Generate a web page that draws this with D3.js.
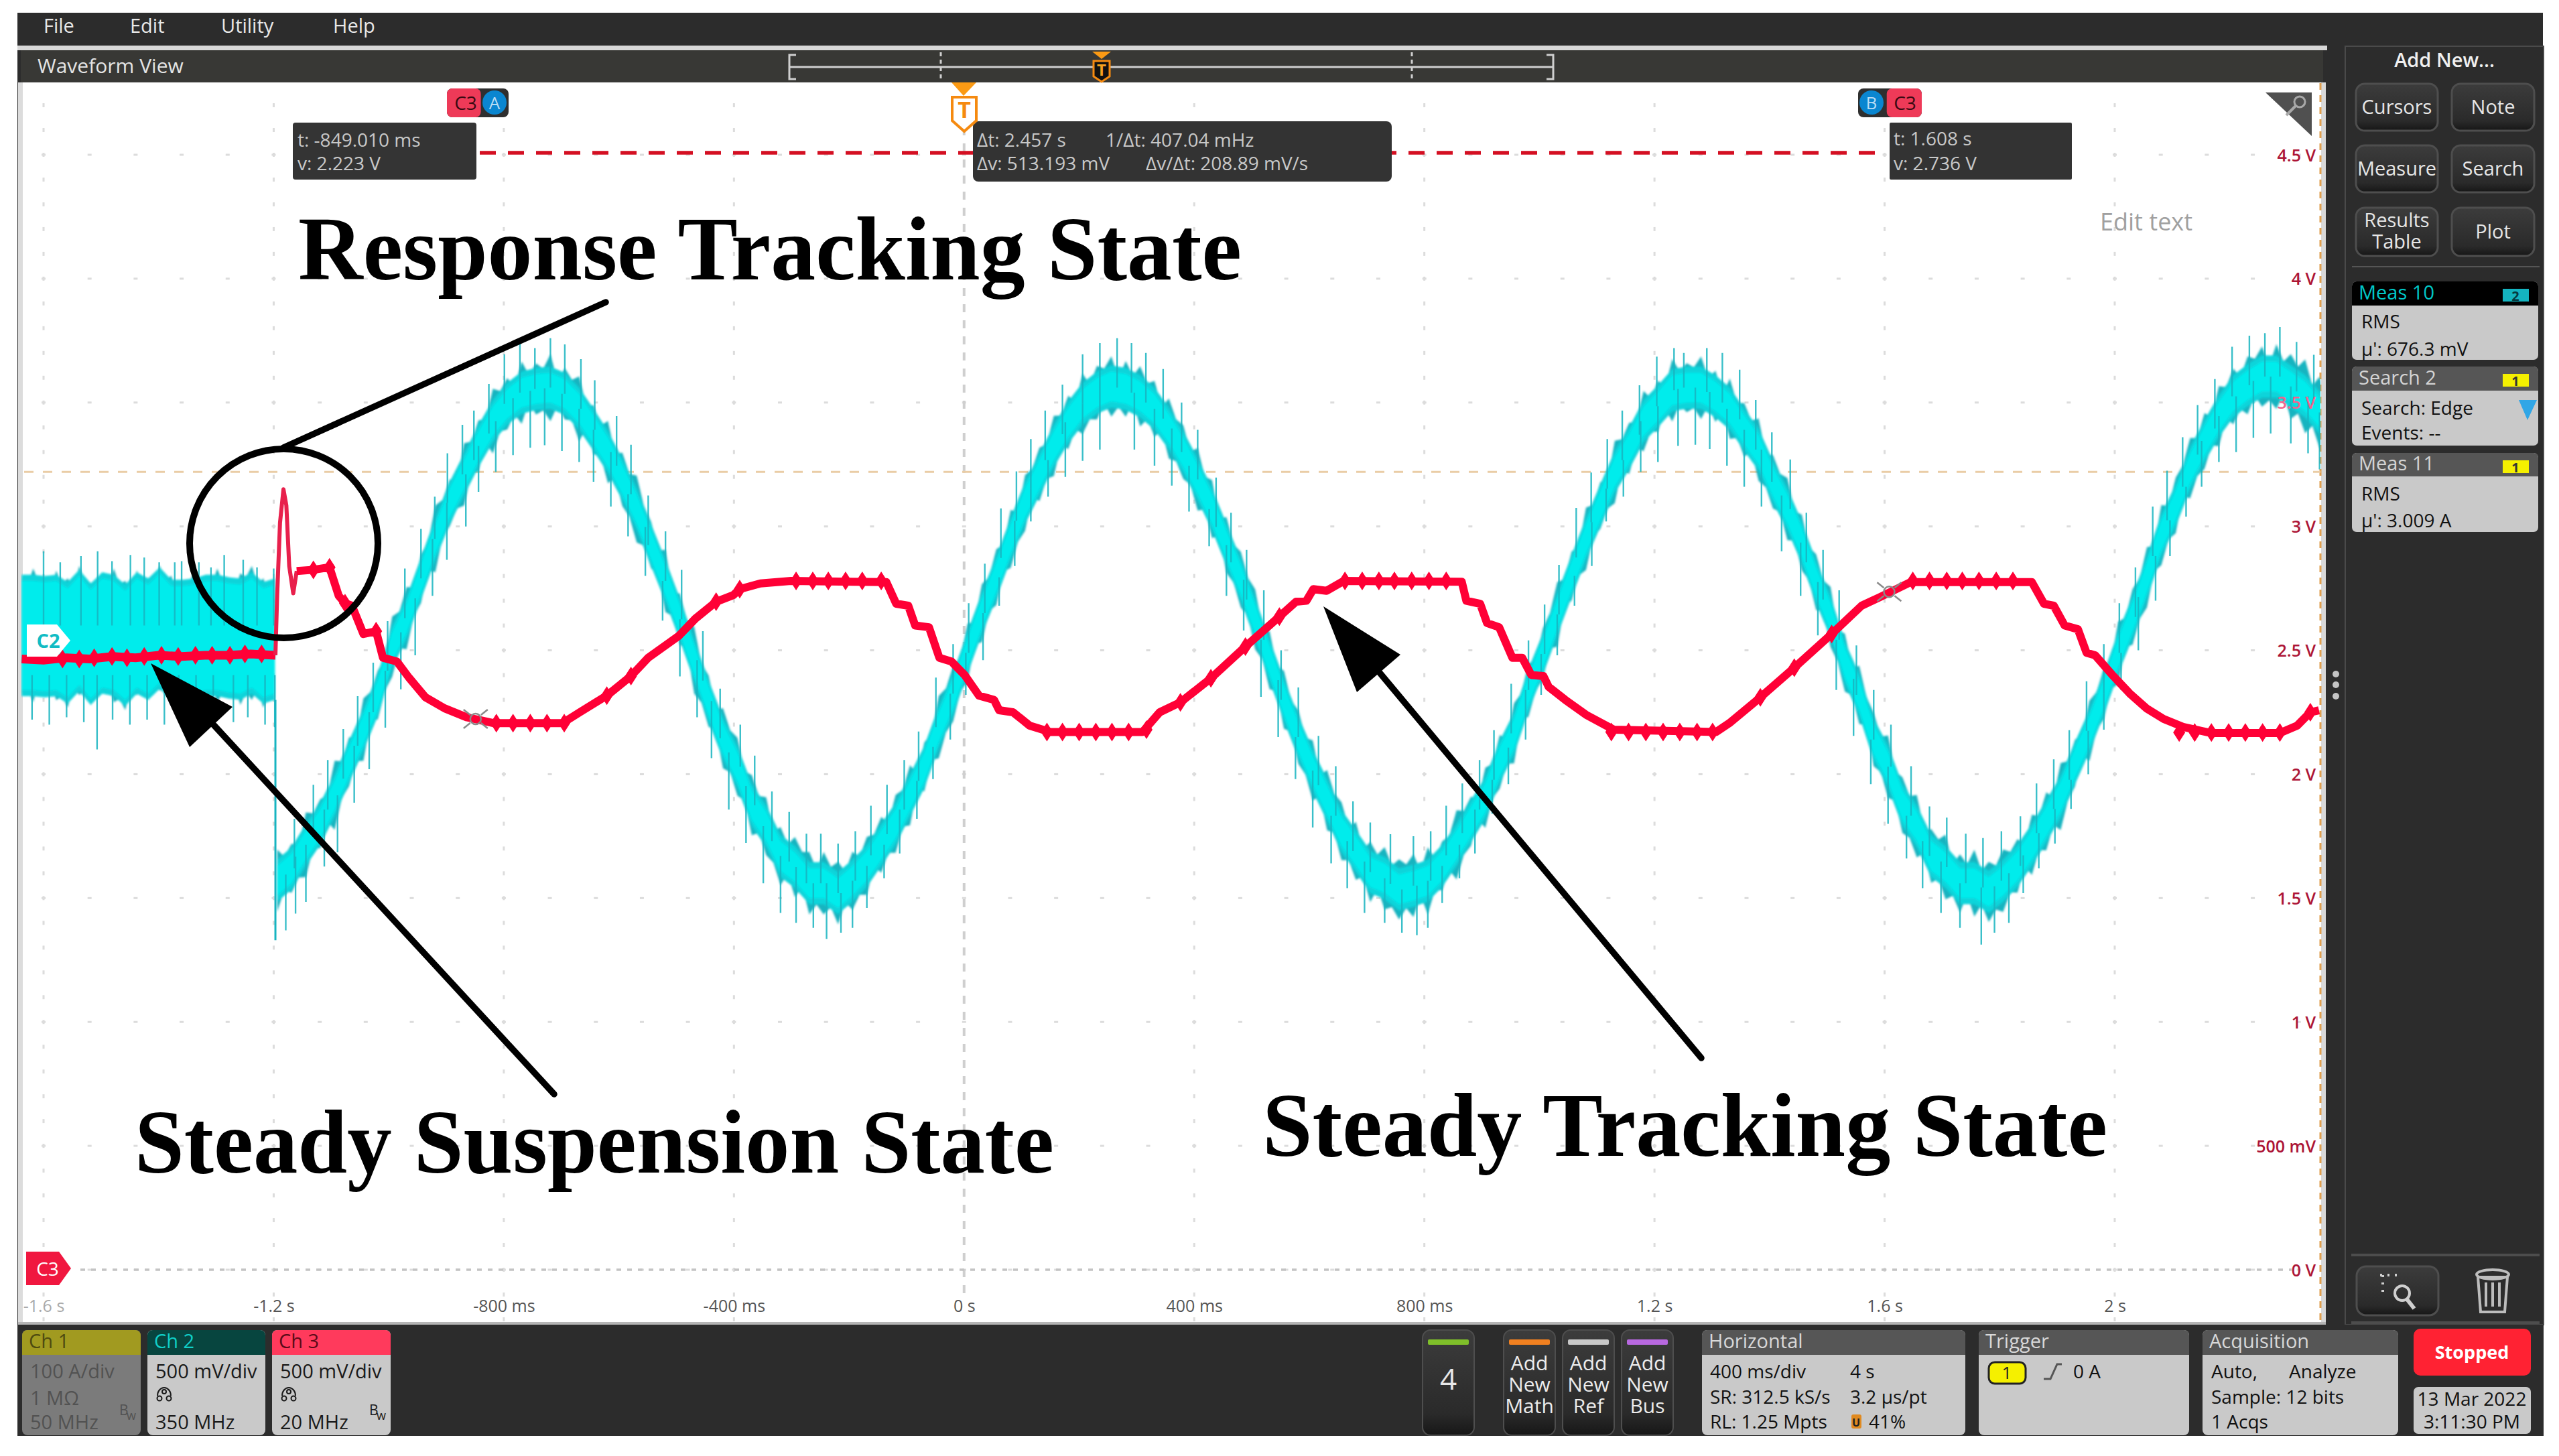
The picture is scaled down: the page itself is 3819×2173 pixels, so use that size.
<!DOCTYPE html>
<html><head><meta charset="utf-8">
<script src="https://cdn.jsdelivr.net/npm/d3@7"></script>
<style>html,body{margin:0;padding:0;background:#fff}svg{display:block}</style>
</head><body><svg id="c" width="3819" height="2173" viewBox="0 0 3819 2173"></svg>
<script>
const xTickVals=[-1600,-1200,-800,-400,0,400,800,1200,1600,2000];
const xTickLabels=["-1.6 s","-1.2 s","-800 ms","-400 ms","0 s","400 ms","800 ms","1.2 s","1.6 s","2 s"];
const yTickVals=[0,0.5,1,1.5,2,2.5,3,3.5,4,4.5];
const yTickLabels=["0 V","500 mV","1 V","1.5 V","2 V","2.5 V","3 V","3.5 V","4 V","4.5 V"];

// Ch2 before the step: envelope read every 20 ms from -1638 ms
const steadyHi=[2.82,2.86,2.80,2.85,2.82,2.87,2.80,2.84,2.86,2.81,2.85,2.82,2.87,2.83,2.80,2.85,2.82,2.86,2.81,2.84,2.87,2.82,2.81];
const steadyLo=[2.30,2.26,2.31,2.27,2.24,2.29,2.25,2.30,2.26,2.23,2.29,2.27,2.31,2.25,2.28,2.24,2.30,2.26,2.29,2.25,2.27,2.24,2.28];
const steadyNotch=[.05,.03,.06,.04,.07,.03,.05,.06,.04,.07,.03,.05,.04,.06,.03,.07,.05,.04,.06,.03,.05,.07,.04];
const steadySpikesUp=[[-1600,2.90],[-1571,2.855],[-1535,2.88],[-1506,2.90],[-1481,2.86],[-1449,2.885],[-1425,2.875],[-1399,2.855],[-1372,2.855],[-1360,2.86],[-1330,2.855],[-1309,2.835],[-1286,2.885],[-1253,2.865],[-1229,2.835],[-1200,2.83]];
const steadySpikesDown=[[-1620,2.22],[-1590,2.20],[-1560,2.23],[-1530,2.21],[-1507,2.10],[-1480,2.22],[-1450,2.20],[-1420,2.22],[-1390,2.20],[-1365,2.22],[-1335,2.19],[-1305,2.22],[-1270,2.21],[-1245,2.23],[-1215,2.20],[-1198,2.19]];

// Ch2 tracking: envelope read every 25 ms from -1194 ms
const trackHi=[1.71,1.73,1.86,1.91,2.07,2.16,2.32,2.43,2.65,2.77,2.90,3.10,3.20,3.35,3.44,3.57,3.61,3.68,3.67,3.71,3.65,3.62,3.50,3.44,3.31,3.22,3.03,2.92,2.74,2.61,2.41,2.28,2.16,2.01,1.92,1.80,1.76,1.70,1.70,1.66,
1.70,1.76,1.84,1.93,2.05,2.14,2.33,2.45,2.62,2.78,2.92,3.08,3.22,3.33,3.46,3.54,3.63,3.66,3.70,3.68,3.66,3.60,3.53,3.42,3.33,3.20,3.05,2.91,2.76,2.59,2.43,2.27,2.15,2.03,1.90,1.82,1.74,1.72,1.67,1.69,
1.72,1.74,1.87,1.92,2.04,2.17,2.30,2.46,2.60,2.79,2.91,3.09,3.19,3.36,3.43,3.56,3.60,3.69,3.67,3.70,3.64,3.61,3.51,3.45,3.30,3.21,3.06,2.90,2.77,2.58,2.45,2.26,2.17,2.00,1.93,1.79,1.77,1.69,1.71,1.66,
1.71,1.75,1.85,1.94,2.06,2.15,2.31,2.44,2.63,2.76,2.93,3.10,3.21,3.37,3.47,3.58,3.65,3.70,3.74,3.75,3.71,3.69,3.62,3.58,3.50];
const trackLo=[1.43,1.51,1.57,1.69,1.76,1.94,2.04,2.21,2.38,2.49,2.68,2.80,2.99,3.07,3.21,3.28,3.38,3.40,3.44,3.41,3.42,3.33,3.28,3.16,3.07,2.92,2.82,2.64,2.51,2.31,2.18,2.01,1.90,1.74,1.66,1.54,1.49,1.42,1.42,1.38,
1.44,1.50,1.59,1.67,1.78,1.92,2.05,2.20,2.36,2.52,2.67,2.82,2.97,3.09,3.19,3.30,3.36,3.42,3.43,3.43,3.39,3.35,3.26,3.18,3.05,2.94,2.80,2.66,2.49,2.33,2.17,2.03,1.88,1.76,1.64,1.56,1.47,1.44,1.40,1.41,
1.42,1.52,1.56,1.70,1.77,1.93,2.03,2.22,2.37,2.50,2.69,2.81,2.98,3.08,3.20,3.29,3.37,3.41,3.45,3.42,3.41,3.34,3.27,3.17,3.06,2.93,2.81,2.65,2.50,2.32,2.19,2.02,1.89,1.75,1.65,1.55,1.48,1.43,1.41,1.39,
1.43,1.51,1.58,1.68,1.76,1.94,2.04,2.21,2.35,2.51,2.66,2.83,2.96,3.10,3.22,3.31,3.40,3.44,3.47,3.46,3.42,3.36,3.30,3.24,3.20];
// how far the fringe falls back between two samples
const trackNotch=[.04,.07,.03,.06,.05,.08,.03,.06,.04,.07,.05,.03,.08,.04,.06,.03,.07,.05,.04,.08,.03,.06,.05,.07,.04,.03,.06,.08,.04,.05,.07,.03,.06,.04,.08,.05,.03,.07,.04,.06,
.05,.03,.07,.04,.08,.06,.03,.05,.07,.04,.06,.08,.03,.05,.04,.07,.06,.03,.08,.05,.04,.07,.03,.06,.05,.08,.04,.03,.07,.06,.04,.05,.08,.03,.06,.07,.04,.05,.03,.08,
.06,.04,.03,.07,.05,.08,.04,.06,.03,.05,.07,.04,.08,.03,.06,.05,.07,.04,.03,.06,.08,.05,.04,.07,.03,.06,.05,.04,.08,.07,.03,.05,.06,.04,.07,.03,.08,.05,.06,.04,
.03,.07,.05,.08,.04,.06,.03,.07,.05,.04,.08,.06,.03,.05,.07,.04,.06,.03,.08,.05,.04,.07,.06,.03,.05];
const trackSpikesUp=[[-1170,1.92],[-1137,2.03],[-1112,2.16],[-1085,2.24],[-1060,2.38],[-1033,2.50],[-1008,2.70],[-978,2.90],[-950,3.07],[-926,3.12],[-904,3.33],[-878,3.48],[-858,3.52],[-832,3.64],[-805,3.72],[-778,3.74],[-752,3.72],[-725,3.76],[-700,3.74],[-672,3.70],[-648,3.66],[-610,3.50],[-585,3.42],[-555,3.25],[-525,3.03],[-497,2.88],[-460,2.60],[-430,2.44],[-395,2.20],[-370,2.12],[-340,1.96],[-310,1.90],[-280,1.84],[-255,1.78],
[-225,1.78],[-195,1.80],[-168,1.95],[-140,2.03],[-110,2.24],[-85,2.28],[-55,2.50],[-25,2.68],[2,2.86],[30,3.04],[58,3.24],[85,3.42],[110,3.50],[135,3.62],[165,3.69],[200,3.72],[230,3.74],[260,3.76],[285,3.74],[310,3.72],[340,3.68],[372,3.70],[400,3.56],[432,3.36],[458,3.20],[485,3.00],[515,2.80],[545,2.64],[575,2.42],[610,2.18],[640,2.04],[670,1.92],[700,1.86],[735,1.78],
[775,1.76],[805,1.82],[832,1.94],[860,2.05],[890,2.22],[915,2.30],[945,2.50],[975,2.70],[1003,2.88],[1028,3.02],[1058,3.24],[1084,3.40],[1112,3.50],[1138,3.62],[1168,3.68],[1198,3.70],[1228,3.72],[1245,3.70],[1285,3.72],[1312,3.70],[1342,3.68],[1370,3.64],[1398,3.50],[1430,3.38],[1458,3.18],[1487,2.98],[1515,2.86],[1545,2.60],[1575,2.44],[1605,2.20],[1640,2.06],[1672,1.96],[1702,1.84],[1735,1.80],
[1765,1.80],[1797,1.78],[1830,1.95],[1858,2.05],[1888,2.22],[1915,2.30],[1945,2.52],[1975,2.72],[2002,2.90],[2030,3.06],[2060,3.26],[2085,3.46],[2112,3.56],[2138,3.68],[2168,3.72],[2198,3.76],[2228,3.80],[2255,3.78],[2281,3.82],[2310,3.76],[2340,3.72]];
const trackSpikesDown=[[-1185,1.37],[-1168,1.38],[-1150,1.48],[-1118,1.58],[-1095,1.66],[-1066,1.80],[-1040,1.94],[-1012,2.14],[-985,2.34],[-960,2.42],[-930,2.66],[-905,2.82],[-872,3.00],[-850,3.14],[-820,3.22],[-790,3.28],[-760,3.30],[-735,3.32],[-705,3.28],[-675,3.26],[-650,3.18],[-620,3.08],[-590,2.96],[-560,2.80],[-530,2.62],[-500,2.34],[-470,2.16],[-445,1.98],[-415,1.78],[-385,1.66],[-355,1.54],[-325,1.44],[-298,1.40],[-268,1.38],[-245,1.335],
[-220,1.36],[-200,1.38],[-175,1.46],[-145,1.58],[-118,1.68],[-88,1.82],[-60,1.98],[-30,2.14],[-3,2.32],[27,2.46],[55,2.68],[82,2.84],[110,3.02],[140,3.12],[170,3.20],[200,3.26],[230,3.30],[290,3.25],[325,3.22],[355,3.16],[385,3.06],[420,2.92],[450,2.72],[480,2.58],[510,2.30],[540,2.10],[570,1.98],[600,1.78],[632,1.64],[660,1.54],[690,1.44],[725,1.40],[755,1.36],
[781,1.35],[800,1.38],[825,1.48],[855,1.58],[882,1.68],[912,1.84],[940,1.96],[970,2.14],[997,2.32],[1025,2.48],[1055,2.68],[1085,2.84],[1110,3.02],[1140,3.12],[1170,3.22],[1200,3.26],[1235,3.26],[1265,3.22],[1290,3.26],[1320,3.18],[1350,3.14],[1380,3.02],[1415,2.90],[1448,2.72],[1478,2.56],[1510,2.34],[1540,2.12],[1570,1.96],[1600,1.80],[1632,1.66],[1660,1.54],[1692,1.44],[1725,1.38],[1762,1.29],
[1785,1.36],[1810,1.40],[1835,1.52],[1862,1.62],[1890,1.72],[1918,1.86],[1948,2.00],[1975,2.18],[2005,2.34],[2035,2.50],[2065,2.70],[2090,2.88],[2118,3.04],[2145,3.16],[2175,3.26],[2205,3.30],[2235,3.34],[2265,3.36],[2300,3.28],[2330,3.20],[2350,3.14]];

// Ch3 trace
const redSteady=[[-1638,2.465],[-1600,2.46],[-1560,2.47],[-1520,2.465],[-1480,2.475],[-1440,2.47],[-1400,2.48],[-1360,2.475],[-1320,2.48],[-1280,2.48],[-1240,2.485],[-1197,2.48]];
const redStep=[[-1197,2.48],[-1194,2.72],[-1189,3.015],[-1183,3.15],[-1178,3.085],[-1173,2.84],[-1166,2.73],[-1160,2.82]];
const redTrack=[[-1160,2.82],[-1131,2.825],[-1103,2.835],[-1087,2.72],[-1076,2.69],[-1064,2.68],[-1044,2.566],[-1022,2.577],[-1010,2.47],[-986,2.455],[-965,2.39],[-936,2.31],[-903,2.266],[-865,2.23],[-817,2.206],[-698,2.206],[-668,2.25],[-621,2.317],[-579,2.396],[-549,2.47],[-496,2.558],[-467,2.628],[-431,2.696],[-401,2.723],[-390,2.747],[-354,2.77],[-301,2.78],[-135,2.775],[-118,2.688],[-97,2.68],[-85,2.60],[-61,2.593],[-43,2.47],[-22,2.455],[1,2.40],[26,2.317],[52,2.30],[61,2.258],[85,2.25],[114,2.196],[150,2.17],[310,2.17],[340,2.25],[376,2.29],[429,2.387],[489,2.515],[548,2.636],[577,2.696],[595,2.70],[607,2.747],[630,2.74],[660,2.78],[865,2.777],[873,2.70],[897,2.688],[909,2.61],[930,2.593],[953,2.47],[970,2.47],[986,2.40],[1007,2.396],[1016,2.353],[1045,2.30],[1081,2.24],[1129,2.18],[1307,2.17],[1330,2.206],[1384,2.31],[1443,2.43],[1508,2.566],[1560,2.68],[1592,2.715],[1645,2.775],[1856,2.775],[1877,2.688],[1894,2.68],[1913,2.60],[1936,2.585],[1951,2.49],[1966,2.48],[1996,2.40],[2026,2.326],[2055,2.266],[2085,2.223],[2120,2.19],[2168,2.166],[2287,2.166],[2317,2.196],[2340,2.25],[2355,2.258]];
const redBumps=[[-1567,2.465],[-1538,2.465],[-1512,2.47],[-1481,2.475],[-1455,2.47],[-1425,2.475],[-1395,2.48],[-1366,2.475],[-1336,2.48],[-1307,2.48],[-1276,2.48],[-1250,2.485],[-1221,2.485],
[-1131,2.825],[-1103,2.835],[-1022,2.577],[-1076,2.69],[-813,2.206],[-784,2.206],[-754,2.206],[-725,2.206],[-695,2.206],[-621,2.317],[-579,2.396],[-431,2.696],[-390,2.747],
[-292,2.78],[-263,2.78],[-236,2.78],[-206,2.78],[-177,2.78],[-144,2.78],[144,2.17],[171,2.17],[200,2.17],[229,2.17],[257,2.17],[286,2.17],[317,2.18],[376,2.29],[429,2.387],[489,2.515],[548,2.636],
[662,2.78],[692,2.78],[721,2.78],[748,2.78],[778,2.78],[808,2.78],[838,2.78],[1125,2.17],[1155,2.17],[1185,2.17],[1215,2.17],[1244,2.17],[1274,2.17],[1301,2.17],[1384,2.31],[1443,2.43],[1508,2.566],
[1649,2.78],[1678,2.78],[1708,2.78],[1735,2.78],[1764,2.78],[1794,2.78],[1823,2.78],[2112,2.168],[2139,2.168],[2168,2.168],[2198,2.168],[2227,2.168],[2257,2.168],[2287,2.168],[2340,2.25]];
const cursorTimes=[-849.01,1608];

const svg=d3.select("#c");
const x=d3.scaleLinear().domain([-1600,2000]).range([65,3156]);
const y=d3.scaleLinear().domain([0,4.5]).range([1895,231]);
const SANS='"Open Sans","Noto Sans",sans-serif', SERIF='"Liberation Serif",serif';
const PANEL='#2c2c2c', HEAD='#565656', BODY='#c9c9c9';

const defs=svg.append("defs");
const g1=defs.append("linearGradient").attr("id","btn").attr("x1",0).attr("x2",0).attr("y1",0).attr("y2",1);
g1.append("stop").attr("offset",0).attr("stop-color","#3c3c3c");g1.append("stop").attr("offset",.8).attr("stop-color","#2a2a2a");g1.append("stop").attr("offset",1).attr("stop-color","#161616");
defs.append("clipPath").attr("id","plotclip").append("rect").attr("x",31).attr("y",124).attr("width",3432).attr("height",1850);
defs.append("filter").attr("id","soft").attr("x","-2%").attr("y","-2%").attr("width","104%").attr("height","104%").append("feGaussianBlur").attr("stdDeviation",1.4);

function rect(p,x0,y0,x1,y1,fill,o={}){const r=p.append("rect").attr("x",x0).attr("y",y0).attr("width",x1-x0).attr("height",y1-y0).attr("fill",fill);
 if(o.rx)r.attr("rx",o.rx);if(o.stroke)r.attr("stroke",o.stroke).attr("stroke-width",o.sw||2);return r;}
function txt(p,s,tx,ty,size,fill,o={}){return p.append("text").attr("x",tx).attr("y",ty).attr("font-size",size).attr("font-family",o.family||SANS).attr("font-weight",o.weight||400).attr("fill",fill).attr("text-anchor",o.anchor||"start").text(s);}

/* frame */
rect(svg,26,19,3795,2143,PANEL);
rect(svg,26,68,3473,75,"#d8d8d8");
rect(svg,31,75,3467,123,"#383835");
const plot=svg.append("g");
rect(plot,31,123,3467,1977,"#fff");
rect(plot,27,123,34,1977,"#dcdcdc");
rect(plot,3464,123,3471,1977,"#d8d8d8");
rect(plot,27,1973,3471,1979,"#b5b5b5");
plot.append("line").attr("x1",3463).attr("x2",3463).attr("y1",124).attr("y2",1975).attr("stroke","#e0a050").attr("stroke-width",3).attr("stroke-dasharray","10 8");

/* graticule */
const gridG=plot.append("g").attr("fill","#dcdcdc");
const xMajor=d3.range(-1600,2400,400), yMajor=d3.range(-0,5,0.5);
xMajor.forEach(t=>{d3.range(-0.2,4.95,0.1).forEach(v=>{if(y(v)>128&&y(v)<1970&&t!==0)rect(gridG,x(t)-1.5,y(v)-3,x(t)+1.5,y(v)+3,"#dcdcdc");});});
yMajor.forEach(v=>{d3.range(-1680,2360,80).forEach(t=>{if(x(t)>36&&x(t)<3460)rect(gridG,x(t)-3,y(v)-1.5,x(t)+3,y(v)+1.5,"#dcdcdc");});});
plot.append("line").attr("x1",x(0)).attr("x2",x(0)).attr("y1",190).attr("y2",1940).attr("stroke","#cfcfcf").attr("stroke-width",4).attr("stroke-dasharray","12 12");
plot.append("line").attr("x1",36).attr("x2",3463).attr("y1",y(3.22)).attr("y2",y(3.22)).attr("stroke","#eacda6").attr("stroke-width",3).attr("stroke-dasharray","14 14");
plot.append("line").attr("x1",120).attr("x2",3420).attr("y1",y(0)).attr("y2",y(0)).attr("stroke","#c4c4c4").attr("stroke-width",3.5).attr("stroke-dasharray","7 9");

/* axes */
const xAxis=d3.axisBottom(x).tickValues(xTickVals).tickFormat((d,i)=>xTickLabels[i]).tickSize(0).tickPadding(0);
const xg=plot.append("g").attr("transform","translate(0,1938)").call(xAxis);
xg.select(".domain").remove();
xg.selectAll("text").attr("font-size",25).attr("font-family",SANS).attr("fill",(d,i)=>i===0?"#aaaaaa":"#555").attr("dy",20);

/* waves */
const wave=svg.append("g").attr("clip-path","url(#plotclip)");
const waveSoft=wave.append("g").attr("filter","url(#soft)");
const FRINGE=0.9, TRACK_START=-1194, SPIKE_REACH=0.2;
function envelope(T,hi,lo,notch,dt){const pts=[];T.forEach((t,i)=>{const m=(hi[i]+lo[i])/2,h=m+(hi[i]-m)*FRINGE,l=m+(lo[i]-m)*FRINGE;
 pts.push({t,hi:h,lo:l,m});
 if(i<T.length-1){const m2=(hi[i+1]+lo[i+1])/2,h2=m2+(hi[i+1]-m2)*FRINGE,l2=m2+(lo[i+1]-m2)*FRINGE;
  const nh=notch[i],nl=notch[notch.length-1-i];
  pts.push({t:t+dt/2,hi:(h+h2)/2-nh,lo:(l+l2)/2+nl,m:(m+m2)/2});}});return pts;}
const steadyT=steadyHi.map((_,i)=>-1638+20*i), trackT=trackHi.map((_,i)=>TRACK_START+25*i);
const steady=envelope(steadyT,steadyHi,steadyLo,steadyNotch,20);
const track=envelope(trackT,trackHi,trackLo,trackNotch,25);
const band=(f)=>d3.area().x(d=>x(d.t)).y0(d=>y(f(d)[0])).y1(d=>y(f(d)[1]));
const TEAL="#17b4c0", MIDC="#0ad4da", CORE="#00ecec";
function spikes(list,base,dt,reach){wave.append("path").attr("fill","none").attr("stroke",TEAL).attr("stroke-width",2.4).attr("stroke-opacity",.85)
 .attr("d",list.map(([t,v])=>{const b=base(t+dt);const tip=reach?b+Math.max(-reach,Math.min(reach,v-b)):v;return `M${x(t+dt)},${y(tip)}L${x(t+dt)},${y(b)}`;}).join(""));}
const nearTrack=t=>track[Math.max(0,Math.min(track.length-1,Math.round((t-TRACK_START)/12.5)))].m;
spikes(steadySpikesUp,()=>2.6,0,0);spikes(steadySpikesDown,()=>2.4,0,0);
spikes(trackSpikesUp,nearTrack,6,SPIKE_REACH);spikes(trackSpikesDown,nearTrack,6,SPIKE_REACH+.03);
wave.append("path").attr("stroke",TEAL).attr("stroke-width",3).attr("d",`M${x(-1197)},${y(2.3)}L${x(-1197)},${y(1.33)}`);
waveSoft.append("path").datum(steady).attr("fill",TEAL).attr("d",band(d=>[d.lo,d.hi]));
waveSoft.append("path").datum(steady).attr("fill",MIDC).attr("d",band(d=>[d.m-.245,d.m+.245]));
waveSoft.append("path").datum(steady).attr("fill",CORE).attr("d",band(d=>[d.m-.22,d.m+.22]));
waveSoft.append("path").datum(track).attr("fill",TEAL).attr("d",band(d=>[d.lo,d.hi]));
waveSoft.append("path").datum(track).attr("fill",MIDC).attr("d",band(d=>[d.m-.085,d.m+.085]));
waveSoft.append("path").datum(track).attr("fill",CORE).attr("d",band(d=>[d.m-.06,d.m+.06]));

/* C2 tag */
svg.append("path").attr("d","M40,932H85L105,956L85,980H40Z").attr("fill","#fff");
txt(svg,"C2",72,967,29,"#12bcc4",{anchor:"middle",weight:700});

/* red trace */
const redLine=d3.line().x(d=>x(d[0])).y(d=>y(d[1]));
const RED="#ff0036";
wave.append("path").datum(redSteady).attr("fill","none").attr("stroke",RED).attr("stroke-width",13).attr("d",redLine);
wave.append("path").datum(redStep).attr("fill","none").attr("stroke","#e8204c").attr("stroke-width",6).attr("stroke-linejoin","round").attr("d",redLine);
wave.append("path").datum(redTrack).attr("fill","none").attr("stroke",RED).attr("stroke-width",12).attr("stroke-linejoin","round").attr("d",redLine);
wave.append("path").attr("fill",RED).attr("d",redBumps.map(([t,v])=>`M${x(t)-9},${y(v)}L${x(t)},${y(v)-14}L${x(t)+9},${y(v)}L${x(t)},${y(v)+14}Z`).join(""));
/* cursor markers */
cursorTimes.forEach((t,i)=>{const v=[2.223,2.736][i];const cx=x(t),cy=y(v);const g=svg.append("g").attr("stroke","#8a8a8a").attr("stroke-width",2.5).attr("fill","none");
 g.append("circle").attr("cx",cx).attr("cy",cy).attr("r",8);
 g.append("path").attr("d",`M${cx-18},${cy-14}L${cx-8},${cy-6}M${cx+18},${cy-14}L${cx+8},${cy-6}M${cx-18},${cy+14}L${cx-8},${cy+6}M${cx+18},${cy+14}L${cx+8},${cy+6}`);});

/* y axis labels on top of waves */
const yAxis=d3.axisLeft(y).tickValues(yTickVals).tickFormat((d,i)=>yTickLabels[i]).tickSize(0).tickPadding(0);
const yg=svg.append("g").attr("transform","translate(3456,0)").call(yAxis);
yg.select(".domain").remove();
yg.selectAll("text").attr("font-size",25).attr("font-family",SANS).attr("font-weight",600).attr("fill",d=>d===3.5?"#f4628c":"#ad1536").attr("dy","0.36em");

/* C3 ground tag */
svg.append("path").attr("d","M39,1868H88L106,1893L88,1918H39Z").attr("fill","#f0173f");
txt(svg,"C3",71,1904,28,"#fff",{anchor:"middle"});

/* cursors */
svg.append("line").attr("x1",716).attr("x2",2815).attr("y1",228).attr("y2",228).attr("stroke","#d40f22").attr("stroke-width",5.5).attr("stroke-dasharray","24 18");
function chip(x0,x1,y0,y1,side,l){ rect(svg,x0,y0,x1,y1,"#2f2f2f",{rx:8});
 const rr=side==="right";
 rect(svg,rr?x0:x0+ (x1-x0)*.45,y0,rr?x0+(x1-x0)*.55:x1,y1,"#ee3a58",{rx:8});
 return;}
chip(667,759,132,175,"right");
svg.append("circle").attr("cx",738).attr("cy",153).attr("r",18).attr("fill","#0a86d0");
txt(svg,"C3",695,164,28,"#3a0a12",{anchor:"middle"});txt(svg,"A",738,163,26,"#b8dcf4",{anchor:"middle"});
chip(2773,2868,132,175,"left");
svg.append("circle").attr("cx",2793).attr("cy",153).attr("r",18).attr("fill","#0a86d0");
txt(svg,"C3",2843,164,28,"#3a0a12",{anchor:"middle"});txt(svg,"B",2793,163,26,"#b8dcf4",{anchor:"middle"});
const RO="#c8c8c8";
rect(svg,437,183,711,268,"#343434",{rx:4});
txt(svg,"t: -849.010 ms",444,219,28,RO);txt(svg,"v: 2.223 V",444,254,28,RO);
rect(svg,1452,181,2077,271,"#333",{rx:8});
txt(svg,"Δt: 2.457 s",1458,219,28,RO);txt(svg,"1/Δt: 407.04 mHz",1650,219,28,RO);
txt(svg,"Δv: 513.193 mV",1458,254,28,RO);txt(svg,"Δv/Δt: 208.89 mV/s",1710,254,28,RO);
rect(svg,2820,183,3092,268,"#333",{rx:2});
txt(svg,"t: 1.608 s",2826,217,28,RO);txt(svg,"v: 2.736 V",2826,254,28,RO);

/* trigger marker */
svg.append("path").attr("d","M1420,123H1457L1438,143Z").attr("fill","#fb9a14");
svg.append("path").attr("d","M1421,145H1457V180L1439,196L1421,180Z").attr("fill","#fff").attr("stroke","#f58a10").attr("stroke-width",4);
txt(svg,"T",1439,176,34,"#f58a10",{anchor:"middle",weight:700});

/* corner zoom triangle */
svg.append("path").attr("d","M3381,138H3450V203Z").attr("fill","#505050");
svg.append("circle").attr("cx",3432).attr("cy",152).attr("r",8).attr("fill","none").attr("stroke","#a8a8a8").attr("stroke-width",3);
svg.append("line").attr("x1",3426).attr("y1",158).attr("x2",3412).attr("y2",172).attr("stroke","#a8a8a8").attr("stroke-width",4);
txt(svg,"Edit text",3134,344,36,"#a0a0a0");

/* annotations */
const ann=svg.append("g");
function anno(s,x0,x1,base){ann.append("text").attr("x",x0).attr("y",base).attr("font-family",SERIF).attr("font-weight",700).attr("font-size",135).attr("fill","#000").attr("textLength",x1-x0).attr("lengthAdjust","spacingAndGlyphs").text(s);}
anno("Response Tracking State",445,1853,417);
anno("Steady Suspension State",201,1573,1750);
anno("Steady Tracking State",1884,3145,1725);
ann.append("ellipse").attr("cx",423.5).attr("cy",811).attr("rx",140.5).attr("ry",141).attr("fill","none").attr("stroke","#000").attr("stroke-width",10);
const LW=9.5;
function seg(a,b,c,d){ann.append("line").attr("x1",a).attr("y1",b).attr("x2",c).attr("y2",d).attr("stroke","#000").attr("stroke-width",LW).attr("stroke-linecap","round");}
seg(423,668,904,451);
seg(319,1082,827,1633);
seg(2059,1004,2539,1579);
ann.append("path").attr("d","M225,990L347,1055L283,1115Z").attr("fill","#000");
ann.append("path").attr("d","M1975,905L2090,977L2025,1033Z").attr("fill","#000");

/* menu + overview */
const W="#f0f0f0";
[["File",65],["Edit",194],["Utility",330],["Help",497]].forEach(d=>txt(svg,d[0],d[1],49,29,"#e8e8e8"));
txt(svg,"Waveform View",56,109,30,"#e4e4e4");
const ov=svg.append("g").attr("stroke","#cfcfcf").attr("fill","none").attr("stroke-width",3);
ov.append("path").attr("d","M1188,82H1178V118H1188M2308,82H2318V118H2308M1178,100H2318");
ov.append("path").attr("stroke-dasharray","6 5").attr("d","M1404,78V122M2107,78V122");
svg.append("path").attr("d","M1630,77H1658L1644,88Z").attr("fill","#fb9a14");
svg.append("path").attr("d","M1632,91H1656V114L1644,122L1632,114Z").attr("fill","#111").attr("stroke","#f58a10").attr("stroke-width",3);
txt(svg,"T",1644,113,24,"#f5a020",{anchor:"middle",weight:700});

/* right panel */
rect(svg,3500,69,3796,1977,PANEL,{stroke:"#4a4a4a",sw:2});
txt(svg,"Add New...",3648,100,29,W,{anchor:"middle",weight:600});
function button(x0,y0,x1,y1,lines){rect(svg,x0,y0,x1,y1,"url(#btn)",{rx:13,stroke:"#4e4e4e",sw:3});
 const cx=(x0+x1)/2,cy=(y0+y1)/2;
 if(lines.length===1)txt(svg,lines[0],cx,cy+10,29,"#e6e6e6",{anchor:"middle"});
 else{txt(svg,lines[0],cx,cy-7,29,"#e6e6e6",{anchor:"middle"});txt(svg,lines[1],cx,cy+25,29,"#e6e6e6",{anchor:"middle"});}}
button(3516,125,3638,195,["Cursors"]);button(3659,125,3782,195,["Note"]);
button(3516,217,3638,287,["Measure"]);button(3659,217,3782,287,["Search"]);
button(3516,310,3638,382,["Results","Table"]);button(3659,310,3782,382,["Plot"]);
rect(svg,3510,397,3790,399,"#555");
function card(y0,yh,y1,hfill,label,lcol,badge,bfill,bcol,lines){
 rect(svg,3510,y0,3788,y1,BODY,{rx:7});rect(svg,3510,y0,3788,yh,hfill,{rx:7});rect(svg,3510,yh-8,3788,yh,hfill);
 txt(svg,label,3520,yh-9,29,lcol);
 rect(svg,3735,y0+11,3774,y0+30,bfill);txt(svg,badge,3754,y0+29,20,bcol,{anchor:"middle",weight:700});
 lines.forEach(l=>txt(svg,l[0],3524,l[1],28,"#111"));}
card(420,456,537,"#000","Meas 10","#00c8c8","2","#14b4c0","#053a40",[["RMS",490],["µ': 676.3 mV",531]]);
card(547,583,665,HEAD,"Search 2","#d4d4d4","1","#f5f000","#333",[["Search: Edge",619],["Events: --",656]]);
svg.append("path").attr("d","M3759,597H3786L3772,627Z").attr("fill","#30a6e6");
card(676,711,794,HEAD,"Meas 11","#d4d4d4","1","#f5f000","#333",[["RMS",747],["µ': 3.009 A",787]]);
[1006,1022,1039].forEach(cy=>svg.append("circle").attr("cx",3486).attr("cy",cy).attr("r",5).attr("fill","#c4c4c4"));
rect(svg,3509,1871,3790,1875,"#4d4d4d");
rect(svg,3517,1890,3639,1963,"url(#btn)",{rx:14,stroke:"#4e4e4e",sw:3});
const mag=svg.append("g").attr("stroke","#cfcfcf").attr("fill","none");
mag.append("circle").attr("cx",3585).attr("cy",1930).attr("r",11).attr("stroke-width",4);
mag.append("line").attr("x1",3592).attr("y1",1939).attr("x2",3603).attr("y2",1953).attr("stroke-width",6);
mag.append("path").attr("stroke-dasharray","3 8").attr("stroke-width",4).attr("d","M3552,1903H3580M3556,1903V1936");
const tr=svg.append("g").attr("stroke","#bdbdbd").attr("stroke-width",4).attr("fill","none");
tr.append("path").attr("d","M3698,1906H3742L3738,1958H3702ZM3710,1914V1950M3720,1914V1950M3730,1914V1950");
tr.append("ellipse").attr("cx",3720).attr("cy",1902).attr("rx",24).attr("ry",7);
rect(svg,3509,1972,3790,1976,"#4d4d4d");

/* bottom bar */
rect(svg,26,1977,3796,2143,PANEL);
function chBox(x0,x1,hfill,label,lcol,bfill,tcol,lines,bw,probe){
 rect(svg,x0,1985,x1,2142,bfill,{rx:8});rect(svg,x0,1985,x1,2022,hfill,{rx:8});rect(svg,x0,2014,x1,2022,hfill);
 txt(svg,label,x0+10,2012,29,lcol);
 lines.forEach(l=>txt(svg,l[0],x0+ (l[2]||12),l[1],29,tcol));
 if(bw){txt(svg,"B",x1-32,2112,21,tcol);txt(svg,"w",x1-21,2119,18,tcol);}
 if(probe){const p=svg.append("g").attr("stroke",tcol).attr("stroke-width",2).attr("fill","none");
  p.append("path").attr("d",`M${x0+15},2083a10,12 0 0 1 20,0`);p.append("circle").attr("cx",x0+18).attr("cy",2087).attr("r",3.5);p.append("circle").attr("cx",x0+32).attr("cy",2087).attr("r",3.5);p.append("circle").attr("cx",x0+25).attr("cy",2077).attr("r",3);}
}
chBox(33,210,"#a19a20","Ch 1","#4e4a10","#7b7b7b","#525252",[["100 A/div",2057],["1 MΩ",2097],["50 MHz",2133]],true,false);
chBox(220,396,"#07453f","Ch 2","#10cfc8",BODY,"#1a1a1a",[["500 mV/div",2057],["350 MHz",2133]],false,true);
chBox(406,583,"#ff3a5c","Ch 3","#5a0a18",BODY,"#1a1a1a",[["500 mV/div",2057],["20 MHz",2133]],true,true);
function tall(x0,x1,col,lines,big){rect(svg,x0,1985,x1,2142,"url(#btn)",{rx:12,stroke:"#4e4e4e",sw:2});
 rect(svg,x0+8,1999,x1-8,2007,col,{rx:2});
 if(big)txt(svg,big,(x0+x1)/2,2074,44,"#e8e8e8",{anchor:"middle"});
 lines.forEach((l,i)=>txt(svg,l,(x0+x1)/2,2045+i*32,30,"#ececec",{anchor:"middle"}));}
tall(2123,2200,"#7fbf2a",[],"4");
tall(2244,2321,"#f08020",["Add","New","Math"]);
tall(2332,2409,"#c8c8c8",["Add","New","Ref"]);
tall(2420,2497,"#b868e0",["Add","New","Bus"]);
function box(x0,x1,label,lines){rect(svg,x0,1985,x1,2142,BODY,{rx:8});rect(svg,x0,1985,x1,2022,HEAD,{rx:8});rect(svg,x0,2014,x1,2022,HEAD);
 txt(svg,label,x0+10,2012,29,"#d8d8d8");lines.forEach(l=>txt(svg,l[0],l[1],l[2],28,"#111"));}
box(2540,2933,"Horizontal",[["400 ms/div",2552,2057],["4 s",2761,2057],["SR: 312.5 kS/s",2552,2095],["3.2 µs/pt",2761,2095],["RL: 1.25 Mpts",2552,2132],["41%",2789,2132]]);
rect(svg,2763,2111,2778,2132,"#e08a20",{rx:3});txt(svg,"U",2770,2129,16,"#222",{anchor:"middle",weight:700});
box(2953,3267,"Trigger",[["0 A",3094,2057]]);
rect(svg,2968,2033,3023,2065,"#f5f000",{rx:9,stroke:"#222",sw:3});txt(svg,"1",2995,2058,26,"#222",{anchor:"middle"});
svg.append("path").attr("d","M3050,2058H3060L3070,2036H3077").attr("fill","none").attr("stroke","#555").attr("stroke-width",3);
box(3287,3579,"Acquisition",[["Auto,",3300,2057],["Analyze",3416,2057],["Sample: 12 bits",3300,2095],["1 Acqs",3300,2132]]);
rect(svg,3602,1983,3777,2053,"#ff2233",{rx:10});
txt(svg,"Stopped",3689,2028,27,"#fff",{anchor:"middle",weight:700});
rect(svg,3602,2070,3777,2140,BODY,{rx:7});
txt(svg,"13 Mar 2022",3689,2098,28,"#111",{anchor:"middle"});txt(svg,"3:11:30 PM",3689,2132,28,"#111",{anchor:"middle"});
</script></body></html>
